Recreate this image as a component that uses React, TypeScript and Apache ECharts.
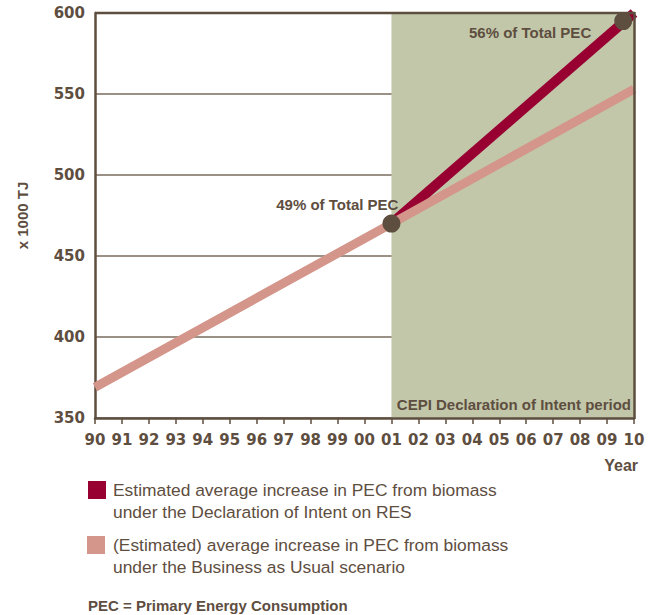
import React, { useEffect, useRef } from "react";
import * as echarts from "echarts";

const years = [1990, 2010];
const bauSeries: [number, number][] = [
  [1990, 369],
  [2001, 470],
  [2010, 553],
];
const doiSeries: [number, number][] = [
  [2001, 470],
  [2010, 600],
];
const milestonePoints: [number, number][] = [
  [2001, 470],
  [2009.6, 595],
];
const milestoneLabels = ["49% of Total PEC", "56% of Total PEC"];
const periodRange = [2001, 2010];
const yTicks = [350, 400, 450, 500, 550, 600];
const legendLabels = [
  ["Estimated average increase in PEC from biomass", "under the Declaration of Intent on RES"],
  ["(Estimated) average increase in PEC from biomass", "under the Business as Usual scenario"],
];

const BROWN = "#5e4e3f";
const RED = "#980032";
const PINK = "#d4958a";
const SHADE = "#c2c7aa";
const FONT = "'Liberation Sans', Arial, sans-serif";
const NUMFONT = "'DejaVu Sans', sans-serif";

export default function App() {
  const ref = useRef<HTMLDivElement>(null);
  useEffect(() => {
    if (!ref.current) return;
    const chart = echarts.init(ref.current, undefined, { renderer: "svg" });
    const labelPos = [
      [16, -10],
      [-23, 20],
    ];
    chart.setOption({
      animation: false,
      backgroundColor: "#ffffff",
      textStyle: { fontFamily: FONT },
      grid: { left: 95, top: 13, width: 539, height: 405, show: false },
      xAxis: {
        type: "value",
        min: years[0],
        max: years[1],
        interval: 1,
        axisLine: { show: true, lineStyle: { color: BROWN, width: 2.5 } },
        axisTick: { show: true, length: 6, lineStyle: { color: BROWN, width: 1.5 } },
        splitLine: { show: false },
        axisLabel: {
          color: BROWN,
          fontWeight: "bold",
          fontSize: 15,
          fontFamily: NUMFONT,
          margin: 14,
          formatter: (v: number) => String(v % 100).padStart(2, "0"),
        },
      },
      yAxis: {
        type: "value",
        min: yTicks[0],
        max: yTicks[yTicks.length - 1],
        interval: 50,
        name: "x 1000 TJ",
        nameLocation: "middle",
        nameRotate: 90,
        nameGap: 65,
        nameTextStyle: { color: BROWN, fontWeight: "bold", fontSize: 15, fontFamily: FONT },
        axisLine: { show: true, lineStyle: { color: BROWN, width: 2.5 } },
        axisTick: { show: false },
        splitLine: { show: true, lineStyle: { color: "#7a6b5c", width: 1.5 } },
        axisLabel: {
          color: BROWN,
          fontWeight: "bold",
          fontSize: 15,
          fontFamily: NUMFONT,
          margin: 10,
        },
      },
      series: [
        {
          type: "line",
          data: doiSeries,
          symbol: "none",
          lineStyle: { color: RED, width: 10 },
          z: 3,
          markArea: {
            silent: true,
            itemStyle: { color: SHADE },
            data: [[{ xAxis: periodRange[0] }, { xAxis: periodRange[1] }]],
            z: 0,
          },
        },
        {
          type: "line",
          data: bauSeries,
          symbol: "none",
          lineStyle: { color: PINK, width: 9 },
          z: 4,
        },
        {
          type: "scatter",
          data: milestonePoints.map((p, i) => ({
            value: p,
            label: {
              show: true,
              formatter: milestoneLabels[i],
              position: labelPos[i],
              align: "right",
              verticalAlign: "middle",
              color: BROWN,
              opacity: 1,
              textBorderWidth: 0,
              fontWeight: "bold",
              fontSize: 15,
              fontFamily: FONT,
            },
          })),
          symbolSize: 18,
          itemStyle: { color: BROWN, opacity: 1 },
          z: 5,
        },
      ],
      graphic: [
        { type: "line", shape: { x1: 95, y1: 13, x2: 635, y2: 13 }, style: { stroke: BROWN, lineWidth: 2.5 }, z: 10 },
        { type: "line", shape: { x1: 634.5, y1: 12, x2: 634.5, y2: 419 }, style: { stroke: BROWN, lineWidth: 2.5 }, z: 10 },
        {
          type: "text",
          x: 631,
          y: 404,
          style: {
            text: "CEPI Declaration of Intent period",
            fill: BROWN,
            font: `bold 15px ${FONT}`,
            textAlign: "right",
            textVerticalAlign: "middle",
          },
          z: 10,
        },
        {
          type: "text",
          x: 638,
          y: 465,
          style: { text: "Year", fill: BROWN, font: `bold 16px ${FONT}`, textAlign: "right", textVerticalAlign: "middle" },
        },
        { type: "rect", shape: { x: 88, y: 481, width: 18, height: 18 }, style: { fill: RED } },
        {
          type: "text",
          x: 113,
          y: 479,
          style: { text: legendLabels[0].join("\n"), fill: BROWN, font: `17.4px ${FONT}`, lineHeight: 22 },
        },
        { type: "rect", shape: { x: 87, y: 536, width: 18, height: 18 }, style: { fill: PINK } },
        {
          type: "text",
          x: 113,
          y: 534,
          style: { text: legendLabels[1].join("\n"), fill: BROWN, font: `17.4px ${FONT}`, lineHeight: 22 },
        },
        {
          type: "text",
          x: 88,
          y: 605,
          style: {
            text: "PEC = Primary Energy Consumption",
            fill: BROWN,
            font: `bold 15px ${FONT}`,
            textVerticalAlign: "middle",
          },
        },
      ],
    });
    return () => chart.dispose();
  }, []);
  return (
    <div
      ref={ref}
      style={{ position: "absolute", left: 0, top: 0, width: 656, height: 615 }}
    />
  );
}
